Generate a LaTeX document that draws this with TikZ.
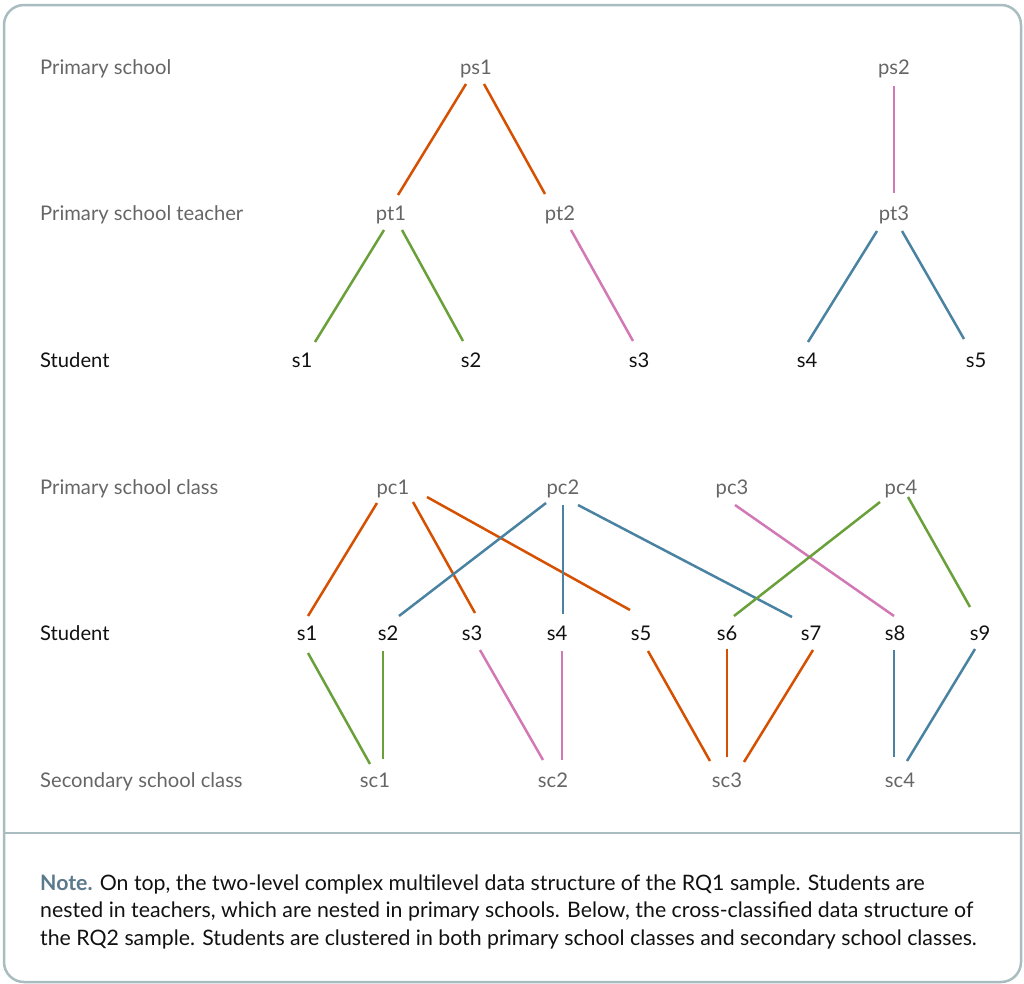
\documentclass[tikz,border=0pt]{standalone}
\usepackage{fontspec}
\setmainfont{Lato}
\definecolor{cOr}{HTML}{D55000}
\definecolor{cGr}{HTML}{6AA039}
\definecolor{cPk}{HTML}{D278B4}
\definecolor{cBl}{HTML}{4A82A2}
\definecolor{frameC}{HTML}{A9BCBF}
\definecolor{noteC}{HTML}{5B7A8C}
\definecolor{grayT}{HTML}{666666}
\definecolor{blackT}{HTML}{111111}
\newcommand\myedge[5]{\draw[#1] ([shift={#3}]#2.center) -- ([shift={#5}]#4.center);}
\begin{document}
\begin{tikzpicture}[x=1pt,y=-1pt,
  lab/.style={inner sep=0pt, text height=14pt, text depth=0pt, font=\fontsize{20.2}{24}\selectfont},
  gl/.style={lab, text=grayT},
  bl/.style={lab, text=blackT},
  rowg/.style={gl, anchor=west},
  rowb/.style={bl, anchor=west},
  ln/.style={line width=2.5pt},
  O/.style={ln, cOr}, G/.style={ln, cGr}, P/.style={ln, cPk}, B/.style={ln, cBl},
  frame/.style={draw=frameC, line width=2.5pt}]
\useasboundingbox (0,0) rectangle (1024,983);
\draw[frame, rounded corners=20pt] (4,5) rectangle (1021,982);
\draw[frame] (4,833) -- (1021,833);

% row labels
\node[rowg] (r1) at (40,67) {Primary school};
\node[rowg] (r2) at (40,213) {Primary school teacher};
\node[rowb] (r3) at (40,360) {Student};
\node[rowg] (r4) at (40,487) {Primary school class};
\node[rowb] (r5) at (40,633) {Student};
\node[rowg] (r6) at (40,780) {Secondary school class};

% top tree
\node[gl] (ps1) at (476,67) {ps1};
\node[gl] (ps2) at (894,67) {ps2};
\node[gl] (pt1) at (391,213) {pt1};
\node[gl] (pt2) at (560,213) {pt2};
\node[gl] (pt3) at (894,213) {pt3};
\node[bl] (ta1) at (302,360) {s1};
\node[bl] (ta2) at (471,360) {s2};
\node[bl] (ta3) at (639,360) {s3};
\node[bl] (ta4) at (807,360) {s4};
\node[bl] (ta5) at (976,360) {s5};

\myedge{O}{ps1}{(-10,17)}{pt1}{(7,-18)}
\myedge{O}{ps1}{(8,17)}{pt2}{(-15,-19)}
\myedge{P}{ps2}{(0,19)}{pt3}{(0,-20)}
\myedge{G}{pt1}{(-7,17)}{ta1}{(13,-18)}
\myedge{G}{pt1}{(11,17)}{ta2}{(-8,-19)}
\myedge{P}{pt2}{(11,17)}{ta3}{(-6,-19)}
\myedge{B}{pt3}{(-17,18)}{ta4}{(1,-18)}
\myedge{B}{pt3}{(8,18)}{ta5}{(-12,-21)}

% bottom cross-classified
\node[gl] (pc1) at (393,487) {pc1};
\node[gl] (pc2) at (563,487) {pc2};
\node[gl] (pc3) at (732,487) {pc3};
\node[gl] (pc4) at (901,487) {pc4};
\node[bl] (sb1) at (307,633) {s1};
\node[bl] (sb2) at (388,633) {s2};
\node[bl] (sb3) at (472,633) {s3};
\node[bl] (sb4) at (557,633) {s4};
\node[bl] (sb5) at (641,633) {s5};
\node[bl] (sb6) at (727,633) {s6};
\node[bl] (sb7) at (811,633) {s7};
\node[bl] (sb8) at (895,633) {s8};
\node[bl] (sb9) at (980,633) {s9};
\node[gl] (sc1) at (375,780) {sc1};
\node[gl] (sc2) at (553,780) {sc2};
\node[gl] (sc3) at (727,780) {sc3};
\node[gl] (sc4) at (900,780) {sc4};

\myedge{O}{pc1}{(-16,16)}{sb1}{(1,-17)}
\myedge{O}{pc1}{(20,15)}{sb3}{(3,-20)}
\myedge{O}{pc1}{(34,10)}{sb5}{(-11,-23)}
\myedge{B}{pc2}{(-17,16)}{sb2}{(11,-17)}
\myedge{B}{pc2}{(0,18)}{sb4}{(6,-19)}
\myedge{B}{pc2}{(15,18)}{sb7}{(-19,-16)}
\myedge{P}{pc3}{(3,18)}{sb8}{(-1,-17)}
\myedge{G}{pc4}{(-21,15)}{sb6}{(7,-17)}
\myedge{G}{pc4}{(7,10)}{sb9}{(-10,-26)}

\myedge{G}{sb1}{(1,20)}{sc1}{(-5,-16)}
\myedge{G}{sb2}{(-5,18)}{sc1}{(8,-21)}
\myedge{P}{sb3}{(8,17)}{sc2}{(-10,-20)}
\myedge{P}{sb4}{(5,18)}{sc2}{(9,-20)}
\myedge{O}{sb5}{(7,18)}{sc3}{(-17,-19)}
\myedge{O}{sb6}{(0,16)}{sc3}{(0,-23)}
\myedge{O}{sb7}{(2,17)}{sc3}{(17,-18)}
\myedge{B}{sb8}{(-1,17)}{sc4}{(-6,-23)}
\myedge{B}{sb9}{(-5,16)}{sc4}{(7,-19)}

% note
\node[anchor=base west, inner sep=0pt, align=left, text=blackT,
      font=\fontsize{21.3}{27.5}\selectfont] (note) at (40,945)
  {{\bfseries\color{noteC}Note.} On top, the two-level complex multilevel data structure of the RQ1 sample. Students are\\
   nested in teachers, which are nested in primary schools. Below, the cross-classified data structure of\\
   the RQ2 sample. Students are clustered in both primary school classes and secondary school classes.};
\end{tikzpicture}
\end{document}
